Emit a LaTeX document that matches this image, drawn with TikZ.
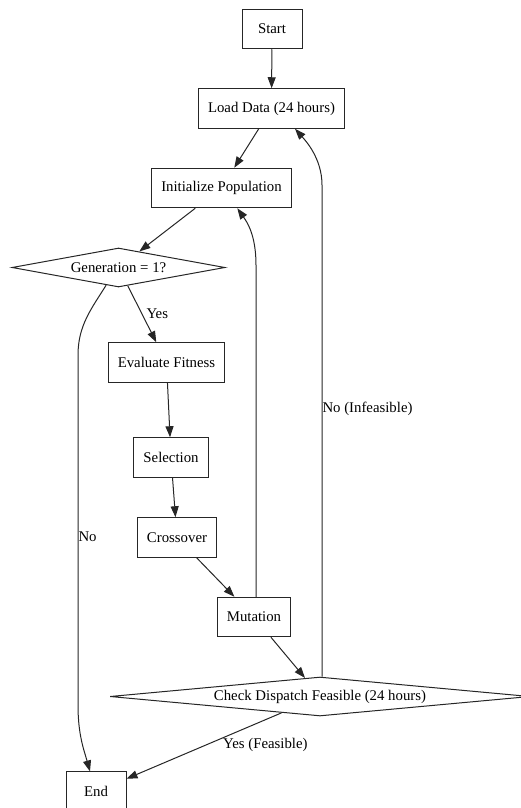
\documentclass[tikz,border=0pt]{standalone}
\usepackage{fontspec}
\setmainfont{Liberation Serif}
\usetikzlibrary{positioning,arrows.meta,shapes.geometric}

\begin{document}
\begin{tikzpicture}[
  x=1pt, y=1pt,
  >={Triangle[length=11pt,width=8pt]},
  every node/.style={font=\fontsize{14.8}{17}\selectfont},
  stepbox/.style={
    draw=black!85, line width=1pt, inner xsep=9.5pt,
    minimum width=60pt, minimum height=39.5pt
  },
  decision/.style={diamond, draw=black!85, line width=1pt, inner sep=0pt},
  flow/.style={->, draw=black!85, line width=1pt},
  lbl/.style={inner sep=0pt}
]
\useasboundingbox (0,0) rectangle (521,-808);
\node[stepbox] (start) at (272,-29) {Start};
\node[stepbox] (load) at (271.5,-108.5) {Load Data (24 hours)};
\node[stepbox] (init) at (221.5,-188) {Initialize Population};
\node[decision, minimum width=213pt, minimum height=39pt, aspect=5.5] (gen) at (118.5,-267.5) {Generation = 1?};
\node[stepbox] (eval) at (166.5,-362.5) {Evaluate Fitness};
\node[stepbox] (sel) at (171,-457.5) {Selection};
\node[stepbox] (cross) at (177,-537.5) {Crossover};
\node[stepbox] (mut) at (254,-617) {Mutation};
\node[decision, minimum width=420pt, minimum height=39pt, aspect=11] (check) at (320,-696.5) {Check Dispatch Feasible (24 hours)};
\node[stepbox] (end) at (96,-791.7) {End};

\draw[flow] (start) -- (load);
\draw[flow] (load) -- (init);
\draw[flow] (init) -- (gen);
\draw[flow] (gen) -- node[lbl, right=4pt] {Yes} (eval);
\draw[flow] (gen.235) .. controls (92,-308) and (78,-325) .. (78,-355)
  -- node[lbl, right, pos=0.52] {No} (78,-705)
  .. controls (78,-735) and (84,-750) .. ([xshift=-6pt]end.north);
\draw[flow] (eval) -- (sel);
\draw[flow] (sel) -- (cross);
\draw[flow] (cross) -- (mut);
\draw[flow] ([xshift=2pt]mut.north) -- (256,-265)
  .. controls (256,-235) and (247,-222) .. ([xshift=15.8pt]init.south);
\draw[flow] (mut) -- (check.129);
\draw[flow] ([xshift=2pt]check.north) -- node[lbl, right, pos=0.544] {No (Infeasible)} (322,-185)
  .. controls (322,-158) and (305,-140) .. ([xshift=23.5pt]load.south);
\draw[flow] (check) -- node[lbl, pos=0.38, anchor=north west] {Yes (Feasible)} (end);
\end{tikzpicture}
\end{document}
